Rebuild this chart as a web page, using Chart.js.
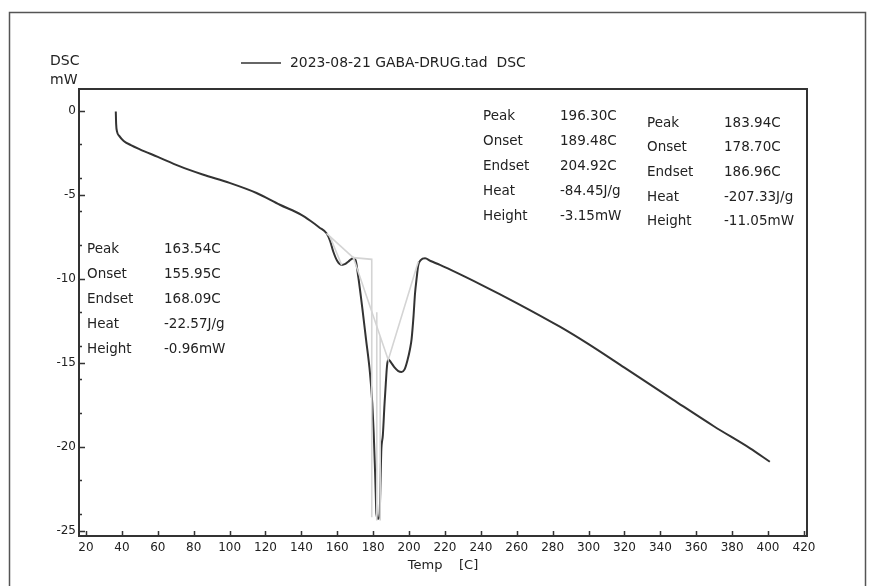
<!DOCTYPE html>
<html>
<head>
<meta charset="utf-8">
<script src="https://cdn.jsdelivr.net/npm/chart.js@4.4.1/dist/chart.umd.min.js"></script>
<style>
  html, body { margin: 0; padding: 0; background: #fff; overflow: hidden; }
  canvas { display: block; }
</style>
</head>
<body>
<canvas id="dsc" width="869" height="586"></canvas>
<script>
// DSC trace (temperature in C, signal in mW)
const tempC = [36.6, 36.8, 37.3, 38.5, 41, 45, 50, 60, 72, 85, 100, 115, 128, 140, 145, 150, 154,
  156, 157.8, 160, 162.4, 164.5, 166.1, 168.9, 170.2, 171.7, 174, 176, 178.2, 179.5, 180.3, 180.9,
  181.4, 181.8, 182.8, 183.6, 184.1, 184.5, 185.4, 186.3, 187, 187.7, 188.4, 190, 192, 194, 195.8,
  197.5, 199, 200.5, 201.4, 202.5, 203.3, 204.3, 205.1, 206.5, 208.9, 212, 217.2, 240, 260, 284,
  300, 320, 347, 370, 390, 401];
const dscMw = [-0.05, -0.8, -1.25, -1.5, -1.8, -2.05, -2.3, -2.75, -3.3, -3.8, -4.3, -4.9, -5.6, -6.2, -6.55, -6.95, -7.3,
  -7.75, -8.4, -8.95, -9.18, -9.12, -8.99, -8.78, -8.9, -9.9, -11.8, -13.6, -15.6, -17.4, -19.2, -21,
  -22.7, -24.0, -24.3, -24.0, -22, -20.3, -19.3, -17.5, -16.3, -15.2, -14.8, -15.0, -15.3, -15.5, -15.55,
  -15.4, -14.9, -14.2, -13.6, -12.2, -10.9, -9.9, -9.2, -8.9, -8.79, -8.95, -9.18, -10.35, -11.45, -12.86,
  -13.9, -15.3, -17.2, -18.8, -20.1, -20.9];

// evaluation construction lines (grey)
const tangentSmallT = [154, 168.9];
const tangentSmallY = [-7.3, -8.75];
const onsetSmallT = [155.9, 162.5];
const onsetSmallY = [-7.5, -9.2];
const stepBaseT = [168.9, 179.2, 179.2];
const stepBaseY = [-8.75, -8.85, -24.2];
const peakMarkT = [182.0, 182.0];
const peakMarkY = [-12.0, -24.4];
const heightMarkT = [183.9, 183.9];
const heightMarkY = [-13.43, -24.4];
const vBaseT = [168.8, 188.4, 205.1];
const vBaseY = [-8.7, -14.84, -8.99];

const xTicks = [20, 40, 60, 80, 100, 120, 140, 160, 180, 200, 220, 240, 260, 280, 300, 320, 340, 360, 380, 400, 420];
const yTicks = [0, -2, -4, -5, -6, -8, -10, -12, -14, -15, -16, -18, -20, -22, -24, -25];

const legendText = '2023-08-21 GABA-DRUG.tad  DSC';
const resultNames = ['Peak', 'Onset', 'Endset', 'Heat', 'Height'];
const resultsSmall = ['163.54C', '155.95C', '168.09C', '-22.57J/g', '-0.96mW'];
const resultsBroad = ['196.30C', '189.48C', '204.92C', '-84.45J/g', '-3.15mW'];
const resultsSharp = ['183.94C', '178.70C', '186.96C', '-207.33J/g', '-11.05mW'];

function pts(xs, ys) {
  return xs.map((x, i) => ({ x, y: ys[i] }));
}

const GREY = '#d4d4d4';
const INK = '#222';
const FONT = '"DejaVu Sans", sans-serif';

function greyLine(xs, ys) {
  return { data: pts(xs, ys), borderColor: GREY, borderWidth: 1.6, pointRadius: 0, showLine: true, order: 0 };
}

// frame, inward ticks, legend, labels and result tables
const decorPlugin = {
  id: 'decor',
  afterDraw(chart) {
    const ctx = chart.ctx;
    const a = chart.chartArea;
    const xs = chart.scales.x, ys = chart.scales.y;
    ctx.save();

    ctx.strokeStyle = '#555';
    ctx.lineWidth = 1.5;
    ctx.strokeRect(9.5, 12.5, 856, 600);

    ctx.strokeStyle = '#333';
    ctx.lineWidth = 2;
    ctx.strokeRect(a.left, a.top, a.right - a.left, a.bottom - a.top);

    ctx.lineWidth = 1.5;
    ctx.beginPath();
    xs.ticks.forEach(t => {
      const px = Math.round(xs.getPixelForValue(t.value)) + 0.5;
      ctx.moveTo(px, a.bottom);
      ctx.lineTo(px, a.bottom - 5);
    });
    ys.ticks.forEach(t => {
      const py = Math.round(ys.getPixelForValue(t.value)) + 0.5;
      ctx.moveTo(a.left, py);
      ctx.lineTo(a.left + (t.value % 5 === 0 ? 6 : 3), py);
    });
    ctx.stroke();

    ctx.fillStyle = INK;
    ctx.textBaseline = 'middle';
    ctx.textAlign = 'left';
    ctx.font = '14px ' + FONT;
    ctx.fillText('DSC', a.left - 29, a.top - 28);
    ctx.fillText('mW', a.left - 29, a.top - 9);

    // legend
    ctx.strokeStyle = '#333';
    ctx.lineWidth = 1.5;
    ctx.beginPath();
    ctx.moveTo(a.left + 162, a.top - 26);
    ctx.lineTo(a.left + 202, a.top - 26);
    ctx.stroke();
    ctx.font = '13.9px ' + FONT;
    ctx.fillText(legendText, a.left + 211, a.top - 26);

    // result tables
    const blocks = [
      { vals: resultsSmall, dx: 8, dy: 160, step: 25 },
      { vals: resultsBroad, dx: 404, dy: 27, step: 25 },
      { vals: resultsSharp, dx: 568, dy: 34, step: 24.7 }
    ];
    ctx.font = '13.5px ' + FONT;
    blocks.forEach(b => {
      resultNames.forEach((n, i) => {
        const y = a.top + b.dy + i * b.step;
        ctx.fillText(n, a.left + b.dx, y);
        ctx.fillText(b.vals[i], a.left + b.dx + 77, y);
      });
    });
    ctx.restore();
  }
};

new Chart(document.getElementById('dsc'), {
  type: 'scatter',
  data: {
    datasets: [
      {
        label: legendText,
        data: pts(tempC, dscMw),
        borderColor: '#333',
        borderWidth: 2,
        pointRadius: 0,
        showLine: true,
        cubicInterpolationMode: 'monotone',
        order: 1
      },
      greyLine(tangentSmallT, tangentSmallY),
      greyLine(onsetSmallT, onsetSmallY),
      greyLine(stepBaseT, stepBaseY),
      greyLine(peakMarkT, peakMarkY),
      greyLine(heightMarkT, heightMarkY),
      greyLine(vBaseT, vBaseY)
    ]
  },
  options: {
    responsive: false,
    animation: false,
    events: [],
    layout: { padding: { left: 0, top: 89, right: 62, bottom: 13 } },
    plugins: { legend: { display: false }, tooltip: { enabled: false } },
    scales: {
      x: {
        type: 'linear',
        min: 16.1,
        max: 421.7,
        afterBuildTicks: s => { s.ticks = xTicks.map(v => ({ value: v })); },
        afterFit: s => { s.height = 37; },
        grid: { display: false, drawTicks: false },
        border: { display: false },
        ticks: { color: INK, font: { family: FONT, size: 12 }, padding: 5, maxRotation: 0, autoSkip: false },
        title: {
          display: true,
          text: 'Temp\u00a0\u00a0\u00a0\u00a0[C]',
          color: INK,
          font: { family: FONT, size: 13 },
          padding: { top: 0, bottom: 0 }
        }
      },
      y: {
        type: 'linear',
        min: -25.32,
        max: 1.29,
        afterBuildTicks: s => { s.ticks = yTicks.map(v => ({ value: v })); },
        afterFit: s => { s.width = 79; },
        grid: { display: false, drawTicks: false },
        border: { display: false },
        ticks: {
          color: INK,
          font: { family: FONT, size: 12 },
          padding: 3,
          autoSkip: false,
          callback: v => (v % 5 === 0 ? String(v) : '')
        }
      }
    }
  },
  plugins: [decorPlugin]
});
</script>
</body>
</html>
